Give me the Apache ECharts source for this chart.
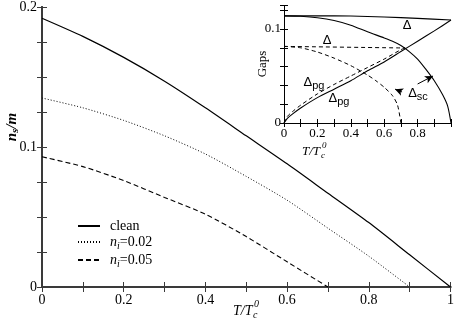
<!DOCTYPE html>
<html>
<head>
<meta charset="utf-8">
<script src="https://cdn.jsdelivr.net/npm/echarts@6/dist/echarts.min.js"></script>
<style>
  html, body { margin: 0; padding: 0; background: #fff; }
  #chart { width: 457px; height: 325px; }
</style>
</head>
<body>
<div id="chart"></div>
<script>
// main panel: superfluid density n_s/m vs T/Tc0
var tClean = [0, 0.1, 0.2, 0.3, 0.4, 0.5, 0.6, 0.7, 0.8, 0.9, 1.0];
var nsClean = [0.192, 0.179, 0.164, 0.147, 0.128, 0.108, 0.088, 0.067, 0.046, 0.023, 0];
var tImp02 = [0, 0.1, 0.2, 0.3, 0.4, 0.5, 0.6, 0.7, 0.8, 0.9];
var nsImp02 = [0.135, 0.128, 0.119, 0.108, 0.095, 0.079, 0.062, 0.042, 0.022, 0];
var tImp05 = [0, 0.1, 0.2, 0.3, 0.4, 0.5, 0.6, 0.7];
var nsImp05 = [0.093, 0.086, 0.076, 0.064, 0.052, 0.036, 0.018, 0];

// inset: gaps vs T/Tc0 (solid = clean, dashed = with impurities)
var tGap = [0, 0.2, 0.4, 0.6, 0.8, 1.0];
var gapClean = [0.114, 0.114, 0.1138, 0.1128, 0.1113, 0.1095];
var tSc = [0, 0.1, 0.2, 0.3, 0.4, 0.5, 0.6, 0.65, 0.7, 0.75, 0.8, 0.85, 0.9, 0.95, 0.98, 1.0];
var scClean = [0.114, 0.1135, 0.112, 0.109, 0.104, 0.097, 0.0905, 0.087, 0.0825, 0.076, 0.068, 0.057, 0.045, 0.030, 0.018, 0];
var tPg = [0, 0.02, 0.05, 0.1, 0.2, 0.3, 0.4, 0.5, 0.6, 0.7, 0.8, 0.9, 1.0];
var pgClean = [0, 0.005, 0.0095, 0.016, 0.027, 0.036, 0.045, 0.0555, 0.065, 0.076, 0.087, 0.098, 0.1095];
var tGapImp = [0, 0.725];
var gapImp = [0.0815, 0.0798];
var tScImp = [0, 0.1, 0.2, 0.3, 0.4, 0.5, 0.55, 0.6, 0.65, 0.68, 0.7];
var scImp = [0.0815, 0.080, 0.0755, 0.069, 0.061, 0.051, 0.045, 0.038, 0.029, 0.019, 0];
var tPgImp = [0, 0.02, 0.05, 0.1, 0.2, 0.3, 0.4, 0.5, 0.6, 0.7, 0.725];
var pgImp = [0, 0.007, 0.012, 0.019, 0.031, 0.041, 0.050, 0.059, 0.068, 0.078, 0.0798];

function pairs(xs, ys) {
  return xs.map(function (x, i) { return [x, ys[i]]; });
}

var serif = 'Liberation Serif';
var sans = 'Liberation Sans';

function evenTenths(v) {
  var r = Math.round(v * 10);
  return r % 2 === 0 ? String(r / 10) : '';
}

function line(name, xs, ys, type, xi, w) {
  return {
    name: name,
    type: 'line',
    xAxisIndex: xi,
    yAxisIndex: xi,
    data: pairs(xs, ys),
    symbol: 'none',
    smooth: 0.25,
    silent: true,
    itemStyle: { color: '#000' },
    lineStyle: { color: '#000', width: w || 1.2, type: type }
  };
}

var mainAxisLine = { lineStyle: { color: '#3a3a3a', width: 2 } };
var insetAxisLine = { lineStyle: { color: '#000', width: 1 } };

var chart = echarts.init(document.getElementById('chart'));

var option = {
  animation: false,
  grid: [
    { left: 42, right: 3, top: 6, bottom: 38 },
    { left: 284, right: 6, top: 5.5, bottom: 202, show: true, backgroundColor: '#fff', borderWidth: 0 }
  ],
  legend: {
    data: ['clean', 'n_i=0.02', 'n_i=0.05'],
    orient: 'vertical',
    left: 72,
    top: 214,
    itemWidth: 22,
    itemHeight: 14,
    itemGap: 2,
    itemStyle: { opacity: 0, borderWidth: 0 },
    textStyle: {
      fontFamily: serif,
      fontSize: 14,
      color: '#000',
      padding: [0, 0, 0, 5],
      rich: {
        i: { fontFamily: serif, fontSize: 14, fontStyle: 'italic', lineHeight: 18 },
        s: { fontFamily: serif, fontSize: 10, fontStyle: 'italic', verticalAlign: 'bottom', lineHeight: 12 },
        r: { fontFamily: serif, fontSize: 14, lineHeight: 18 }
      }
    },
    formatter: function (name) {
      if (name === 'clean') return 'clean';
      return '{i|n}{s|i}{r|=' + name.split('=')[1] + '}';
    }
  },
  xAxis: [
    {
      type: 'value', gridIndex: 0, min: 0, max: 1, interval: 0.1,
      axisLine: mainAxisLine,
      axisTick: { inside: true, length: 5, lineStyle: { color: '#3a3a3a' } },
      axisLabel: { formatter: evenTenths, fontFamily: serif, fontSize: 14, color: '#000', margin: 6 },
      splitLine: { show: false }
    },
    {
      type: 'value', gridIndex: 0, min: 0, max: 1, interval: 0.1, position: 'top',
      axisLine: mainAxisLine,
      axisTick: { inside: true, length: 5, lineStyle: { color: '#3a3a3a' } },
      axisLabel: { show: false },
      splitLine: { show: false }
    },
    {
      type: 'value', gridIndex: 1, min: 0, max: 1, interval: 0.1,
      axisLine: insetAxisLine,
      axisTick: { inside: true, length: 4, lineStyle: { color: '#000' } },
      axisLabel: {
        formatter: function (v) { return v >= 0.95 ? '' : evenTenths(v); },
        fontFamily: serif, fontSize: 13, color: '#000', margin: 4
      },
      splitLine: { show: false }
    },
    {
      type: 'value', gridIndex: 1, min: 0, max: 1, interval: 0.1, position: 'top',
      axisLine: insetAxisLine,
      axisTick: { inside: true, length: 4, lineStyle: { color: '#000' } },
      axisLabel: { show: false },
      splitLine: { show: false }
    }
  ],
  yAxis: [
    {
      type: 'value', gridIndex: 0, min: 0, max: 0.2, interval: 0.025,
      axisLine: mainAxisLine,
      axisTick: { inside: true, length: 5, lineStyle: { color: '#3a3a3a' } },
      axisLabel: {
        formatter: function (v) {
          var r = Math.round(v * 1000);
          return r % 100 === 0 ? String(r / 1000) : '';
        },
        fontFamily: serif, fontSize: 14, color: '#000', margin: 5
      },
      splitLine: { show: false }
    },
    {
      type: 'value', gridIndex: 0, min: 0, max: 0.2, interval: 0.025, position: 'right',
      axisLine: mainAxisLine,
      axisTick: { inside: true, length: 5, lineStyle: { color: '#3a3a3a' } },
      axisLabel: { show: false },
      splitLine: { show: false }
    },
    {
      type: 'value', gridIndex: 1, min: 0, max: 0.125, interval: 0.02,
      axisLine: insetAxisLine,
      axisTick: { inside: true, length: 4, lineStyle: { color: '#000' } },
      axisLabel: {
        formatter: function (v) {
          var r = Math.round(v * 1000);
          if (r === 0) return '0';
          if (r === 100) return '0.1';
          return '';
        },
        fontFamily: serif, fontSize: 13, color: '#000', margin: 3
      },
      splitLine: { show: false }
    },
    {
      type: 'value', gridIndex: 1, min: 0, max: 0.125, interval: 0.02, position: 'right',
      axisLine: insetAxisLine,
      axisTick: { inside: true, length: 4, lineStyle: { color: '#000' } },
      axisLabel: { show: false },
      splitLine: { show: false }
    }
  ],
  series: [
    line('clean', tClean, nsClean, 'solid', 0, 1.2),
    line('n_i=0.02', tImp02, nsImp02, [1, 2], 0, 1),
    line('n_i=0.05', tImp05, nsImp05, [5, 3], 0, 1.1),
    line('gap', tGap, gapClean, 'solid', 2, 1.1),
    line('sc', tSc, scClean, 'solid', 2, 1.1),
    line('pg', tPg, pgClean, 'solid', 2, 1.1),
    line('gapImp', tGapImp, gapImp, [4, 3], 2, 1),
    line('scImp', tScImp, scImp, [4, 3], 2, 1),
    Object.assign(line('pgImp', tPgImp, pgImp, [4, 3], 2, 1), {
      markLine: {
        silent: true,
        animation: false,
        label: { show: false },
        lineStyle: { color: '#000', width: 1, type: 'solid' },
        symbolSize: [6, 8],
        data: [
          [{ coord: [0.707, 0.033], symbol: 'none' }, { coord: [0.665, 0.036], symbol: 'arrow' }],
          [{ coord: [0.80, 0.0415], symbol: 'none' }, { coord: [0.892, 0.050], symbol: 'arrow' }]
        ]
      }
    })
  ],
  graphic: [
    // main axis titles
    {
      type: 'text', x: 12, y: 127, rotation: Math.PI / 2,
      style: {
        text: '{a|n}{s|s}{a|/m}',
        align: 'center', verticalAlign: 'middle',
        rich: {
          a: { fontFamily: serif, fontSize: 15, fontWeight: 'bold', fontStyle: 'italic', lineHeight: 18 },
          s: { fontFamily: serif, fontSize: 11, fontWeight: 'bold', fontStyle: 'italic', verticalAlign: 'bottom', lineHeight: 12 }
        }
      }
    },
    { type: 'text', x: 233, y: 311, style: { text: 'T/T', font: 'italic 14px ' + serif, fill: '#000', verticalAlign: 'middle' } },
    { type: 'text', x: 253, y: 315, style: { text: 'c', font: 'italic 10px ' + serif, fill: '#000', verticalAlign: 'middle' } },
    { type: 'text', x: 254, y: 304, style: { text: '0', font: 'italic 10px ' + serif, fill: '#000', verticalAlign: 'middle' } },
    // inset axis titles
    { type: 'text', x: 302, y: 152, z: 10, style: { text: 'T/T', font: 'italic 13px ' + serif, fill: '#000', verticalAlign: 'middle' } },
    { type: 'text', x: 321, y: 156, z: 10, style: { text: 'c', font: 'italic 9px ' + serif, fill: '#000', verticalAlign: 'middle' } },
    { type: 'text', x: 322, y: 146, z: 10, style: { text: '0', font: 'italic 9px ' + serif, fill: '#000', verticalAlign: 'middle' } },
    {
      type: 'text', x: 263, y: 64, rotation: Math.PI / 2, z: 10,
      style: { text: 'Gaps', font: '13px ' + serif, fill: '#000', align: 'center', verticalAlign: 'middle' }
    },
    // curve labels in the inset
    { type: 'text', x: 407, y: 25, z: 10, style: { text: 'Δ', font: '13px ' + sans, fill: '#000', align: 'center', verticalAlign: 'middle' } },
    { type: 'text', x: 327, y: 40, z: 10, style: { text: 'Δ', font: '13px ' + sans, fill: '#000', align: 'center', verticalAlign: 'middle' } },
    {
      type: 'text', x: 314, y: 82, z: 10,
      style: {
        text: '{d|Δ}{s|pg}', align: 'center', verticalAlign: 'middle',
        rich: {
          d: { fontFamily: sans, fontSize: 13, lineHeight: 18 },
          s: { fontFamily: sans, fontSize: 11, verticalAlign: 'bottom', lineHeight: 13 }
        }
      }
    },
    {
      type: 'text', x: 339, y: 98, z: 10,
      style: {
        text: '{d|Δ}{s|pg}', align: 'center', verticalAlign: 'middle',
        rich: {
          d: { fontFamily: sans, fontSize: 13, lineHeight: 18 },
          s: { fontFamily: sans, fontSize: 11, verticalAlign: 'bottom', lineHeight: 13 }
        }
      }
    },
    {
      type: 'text', x: 418, y: 93, z: 10,
      style: {
        text: '{d|Δ}{s|sc}', align: 'center', verticalAlign: 'middle',
        rich: {
          d: { fontFamily: sans, fontSize: 13, lineHeight: 18 },
          s: { fontFamily: sans, fontSize: 11, verticalAlign: 'bottom', lineHeight: 13 }
        }
      }
    }
  ]
};

chart.setOption(option);
</script>
</body>
</html>
